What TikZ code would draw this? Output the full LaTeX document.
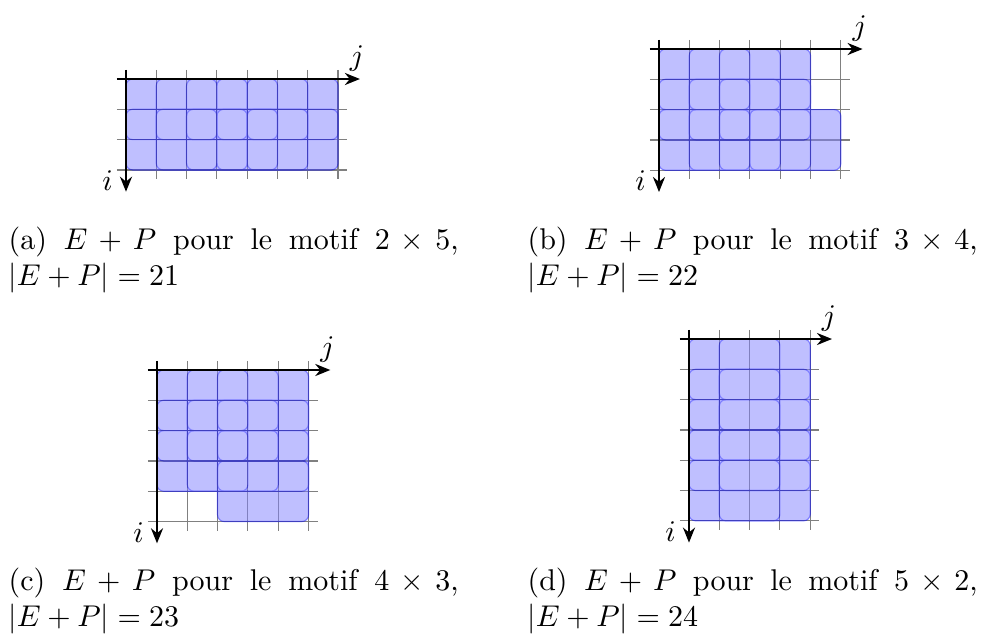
\documentclass[tikz,border=0pt]{standalone}
\usetikzlibrary{arrows.meta}
\begin{document}
\begin{tikzpicture}[x=0.3333pt,y=-0.3333pt,
  gridline/.style={gray,line width=0.4pt},
  axis/.style={line width=0.8pt,-{Stealth[length=5pt,width=4pt]}},
  shapefill/.style={fill=blue!50,rounded corners=2.2pt},
  shapeline/.style={draw=blue,line width=0.4pt,rounded corners=2.2pt},
  caption/.style={anchor=north west,inner sep=0pt,text width=150pt,align=justify}]
\useasboundingbox (0,0) rectangle (982,637);
\def\cs{30.3}
\newcommand{\panelgrid}[4]{%
  \begin{scope}[shift={(#1,#2)},x=\cs*0.3333pt,y=-\cs*0.3333pt]
    \foreach \k in {0,...,#3} \draw[gridline] (\k,-0.3) -- (\k,#4+0.3);
    \foreach \k in {0,...,#4} \draw[gridline] (-0.3,\k) -- (#3+0.3,\k);
  \end{scope}}
\newcommand{\panelshapes}[3]{%
  \begin{scope}[shift={(#1,#2)},x=\cs*0.3333pt,y=-\cs*0.3333pt]
    \begin{scope}[transparency group,opacity=0.5]
      \foreach \r/\c in {#3} \fill[shapefill] (\c,\r) rectangle ++(3,2);
      \foreach \r/\c in {#3} \draw[shapeline] (\c,\r) rectangle ++(3,2);
    \end{scope}
  \end{scope}}
\newcommand{\panelaxes}[4]{%
  \begin{scope}[shift={(#1,#2)},x=\cs*0.3333pt,y=-\cs*0.3333pt]
    \coordinate (o1) at (-0.3,0); \coordinate (je) at (#3+0.72,0);
    \coordinate (o2) at (0,-0.3); \coordinate (ie) at (0,#4+0.72);
    \draw[axis] (o1) -- (je) node[anchor=south,inner sep=0pt,xshift=-1pt,yshift=2pt] {$j$};
    \draw[axis] (o2) -- (ie) node[anchor=south east,inner sep=0pt,xshift=-4pt,yshift=0pt] {$i$};
  \end{scope}}
% (a)
\panelgrid{126}{79}{7}{3}
\panelshapes{126}{79}{0/0,0/1,0/2,0/3,0/4,1/0,1/1,1/2,1/3,1/4}
\panelaxes{126}{79}{7}{3}
% (b)
\panelgrid{659}{49}{6}{4}
\panelshapes{659}{49}{0/0,0/1,0/2,1/0,1/1,1/2,2/0,2/1,2/2,2/3}
\panelaxes{659}{49}{6}{4}
% (c)
\panelgrid{157}{370}{5}{5}
\panelshapes{157}{370}{0/0,0/1,0/2,1/0,1/1,1/2,2/0,2/1,2/2,3/2}
\panelaxes{157}{370}{5}{5}
% (d)
\panelgrid{689}{339}{4}{6}
\panelshapes{689}{339}{0/0,0/1,1/0,1/1,2/0,2/1,3/0,3/1,4/0,4/1}
\panelaxes{689}{339}{4}{6}
% captions
\node[caption] (capa) at (8,226) {(a) $E+P$ pour le motif $2\times 5$, \mbox{$|E+P|=21$}};
\node[caption] (capb) at (527,226) {(b) $E+P$ pour le motif $3\times 4$, \mbox{$|E+P|=22$}};
\node[caption] (capc) at (8,567) {(c) $E+P$ pour le motif $4\times 3$, \mbox{$|E+P|=23$}};
\node[caption] (capd) at (527,567) {(d) $E+P$ pour le motif $5\times 2$, \mbox{$|E+P|=24$}};
\end{tikzpicture}
\end{document}
